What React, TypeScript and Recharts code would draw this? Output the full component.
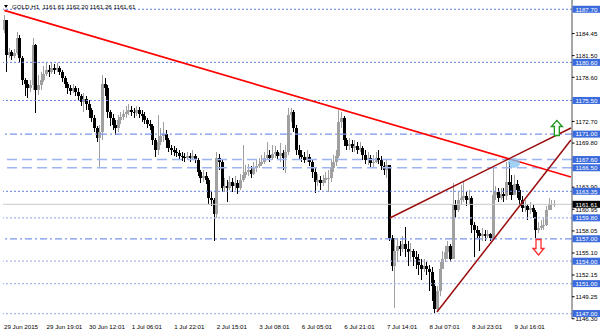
import React from 'react';
import { ComposedChart, Bar, XAxis, YAxis, ReferenceLine, ReferenceDot } from 'recharts';

// ---------- data (GOLD, H1) ----------
const firstOpen = 1184.89;

const closes = [
  1186.23, 1181.54, 1181.94, 1181.41, 1181.81, 1183.82, 1181.14, 1178.19, 1177.66, 1177.12,
  1177.52, 1182.88, 1176.86, 1177.52, 1178.19, 1179.00, 1179.53, 1179.27, 1179.80, 1179.53,
  1179.80, 1179.27, 1178.46, 1177.66, 1177.12, 1176.72, 1177.12, 1176.59, 1176.05, 1175.25,
  1175.65, 1174.98, 1174.18, 1173.11, 1171.77, 1170.43, 1171.23, 1177.66, 1177.12, 1173.91,
  1173.11, 1172.17, 1171.77, 1172.84, 1173.24, 1173.64, 1173.91, 1174.18, 1173.91, 1173.78,
  1174.18, 1173.64, 1173.37, 1172.84, 1172.30, 1172.04, 1170.16, 1168.82, 1169.89, 1170.70,
  1170.96, 1170.16, 1169.09, 1168.82, 1168.55, 1168.42, 1168.02, 1167.88, 1167.75, 1168.02,
  1167.75, 1168.02, 1167.48, 1165.88, 1165.07, 1165.34, 1164.81, 1162.40, 1162.13, 1160.25,
  1167.75, 1167.22, 1163.73, 1164.00, 1163.73, 1164.54, 1164.00, 1164.40, 1163.73, 1164.81,
  1165.47, 1165.88, 1166.14, 1165.61, 1166.41, 1166.68, 1166.95, 1167.22, 1167.75, 1168.15,
  1167.75, 1168.29, 1168.55, 1168.02, 1168.42, 1167.75, 1168.55, 1173.51, 1173.91, 1171.77,
  1168.82, 1168.15, 1167.88, 1167.48, 1167.88, 1167.22, 1165.88, 1164.54, 1164.81, 1164.40,
  1164.81, 1165.07, 1165.07, 1166.41, 1167.22, 1168.02, 1172.57, 1173.11, 1170.16, 1169.36,
  1169.63, 1169.09, 1169.36, 1168.82, 1169.09, 1168.15, 1167.48, 1167.75, 1167.08, 1167.22,
  1167.75, 1167.48, 1166.68, 1166.14, 1166.81, 1157.04, 1153.42, 1155.43, 1156.10, 1155.70,
  1156.24, 1155.70, 1155.17, 1155.43, 1154.63, 1154.36, 1153.56, 1153.02, 1153.42, 1153.02,
  1152.49, 1150.75, 1147.67, 1150.08, 1153.02, 1154.36, 1155.17, 1155.97, 1154.36, 1161.46,
  1160.79, 1162.13, 1162.40, 1162.66, 1162.13, 1162.40, 1158.78, 1158.11, 1157.84, 1157.31,
  1157.58, 1157.31, 1157.58, 1157.17, 1162.80, 1163.20, 1162.40, 1162.93, 1162.66, 1164.54,
  1164.14, 1162.80, 1164.27, 1163.47, 1162.13, 1161.06, 1161.32, 1160.79, 1161.06, 1160.52,
  1158.11, 1158.38, 1158.65, 1158.91, 1160.79, 1161.59, 1161.61, 1161.61,
];

const highs = [
  1186.90, 1185.96, 1182.48, 1182.21, 1182.34, 1184.62, 1184.22, 1181.41, 1178.46, 1178.19,
  1178.19, 1183.82, 1183.01, 1178.86, 1179.27, 1180.07, 1180.47, 1180.20, 1180.60, 1180.34,
  1180.47, 1180.07, 1179.53, 1178.73, 1177.93, 1177.52, 1177.66, 1177.39, 1177.12, 1176.32,
  1176.45, 1176.05, 1175.52, 1174.45, 1173.51, 1172.04, 1172.17, 1178.86, 1178.46, 1177.52,
  1174.18, 1173.64, 1172.84, 1173.51, 1173.91, 1174.18, 1174.71, 1174.98, 1174.71, 1174.45,
  1174.71, 1174.58, 1174.18, 1173.91, 1173.11, 1172.84, 1172.30, 1170.43, 1173.51, 1171.77,
  1172.57, 1171.50, 1170.43, 1169.49, 1169.36, 1169.09, 1168.82, 1168.55, 1168.42, 1168.55,
  1168.42, 1168.82, 1168.29, 1167.75, 1166.14, 1166.14, 1165.88, 1165.07, 1163.20, 1162.40,
  1168.55, 1168.29, 1167.48, 1165.07, 1164.81, 1165.34, 1165.07, 1165.34, 1164.81, 1165.61,
  1169.49, 1166.81, 1166.95, 1166.68, 1167.22, 1167.48, 1167.75, 1168.15, 1168.55, 1169.89,
  1168.82, 1169.49, 1169.36, 1168.82, 1169.76, 1168.82, 1169.49, 1174.45, 1174.45, 1174.18,
  1172.17, 1169.49, 1168.82, 1168.55, 1168.82, 1168.29, 1167.48, 1166.41, 1165.61, 1165.34,
  1165.47, 1165.88, 1166.14, 1167.48, 1168.15, 1168.82, 1174.18, 1173.91, 1173.37, 1170.43,
  1170.43, 1170.16, 1170.16, 1169.89, 1169.89, 1169.36, 1168.82, 1168.55, 1168.15, 1168.15,
  1168.55, 1168.82, 1168.02, 1167.22, 1167.48, 1166.68, 1157.44, 1157.04, 1157.04, 1156.77,
  1157.31, 1158.51, 1156.77, 1156.50, 1155.70, 1155.43, 1154.90, 1154.36, 1154.36, 1153.83,
  1153.56, 1153.29, 1151.42, 1150.75, 1153.83, 1155.43, 1156.10, 1156.77, 1156.24, 1164.40,
  1162.13, 1163.20, 1164.14, 1164.54, 1163.20, 1163.47, 1162.66, 1159.18, 1158.65, 1158.11,
  1158.38, 1158.11, 1158.11, 1157.84, 1166.41, 1164.00, 1163.73, 1163.73, 1163.73, 1167.22,
  1167.22, 1165.47, 1165.47, 1164.81, 1164.00, 1162.66, 1162.13, 1161.59, 1161.86, 1161.46,
  1160.79, 1159.18, 1159.45, 1159.72, 1161.32, 1162.40, 1162.13, 1162.20,
];

const lows = [
  1184.49, 1179.27, 1181.14, 1180.87, 1181.14, 1181.54, 1180.60, 1177.52, 1176.05, 1175.78,
  1176.59, 1176.86, 1173.78, 1176.19, 1176.86, 1177.93, 1178.73, 1178.60, 1179.00, 1179.00,
  1179.27, 1178.86, 1177.93, 1177.12, 1176.32, 1176.19, 1176.45, 1176.05, 1175.52, 1174.71,
  1173.91, 1174.18, 1173.11, 1172.57, 1171.23, 1169.89, 1166.41, 1170.16, 1176.05, 1173.11,
  1172.04, 1171.50, 1170.83, 1171.23, 1172.30, 1172.84, 1173.11, 1173.51, 1173.37, 1173.11,
  1173.37, 1173.11, 1172.57, 1172.30, 1171.77, 1171.50, 1169.49, 1167.88, 1168.15, 1169.49,
  1169.89, 1169.09, 1168.55, 1168.15, 1168.02, 1167.88, 1167.48, 1167.35, 1167.22, 1167.48,
  1167.22, 1167.48, 1167.08, 1165.34, 1164.40, 1164.54, 1164.27, 1161.59, 1161.32, 1156.77,
  1159.72, 1166.14, 1163.20, 1163.20, 1161.86, 1163.47, 1163.20, 1163.47, 1162.93, 1163.47,
  1164.54, 1165.07, 1165.34, 1165.07, 1165.47, 1165.88, 1166.41, 1166.68, 1166.95, 1167.48,
  1167.22, 1167.48, 1167.75, 1167.48, 1167.22, 1166.14, 1165.74, 1168.15, 1172.57, 1171.23,
  1168.15, 1167.48, 1167.22, 1167.08, 1167.22, 1166.68, 1165.07, 1163.06, 1164.00, 1163.47,
  1164.00, 1164.40, 1163.20, 1164.54, 1165.88, 1166.68, 1167.75, 1171.77, 1169.36, 1168.82,
  1168.82, 1168.55, 1168.55, 1168.29, 1168.55, 1167.48, 1166.95, 1166.81, 1166.41, 1166.41,
  1167.08, 1166.95, 1166.14, 1165.47, 1165.07, 1156.77, 1152.75, 1147.80, 1153.83, 1154.76,
  1155.17, 1154.63, 1153.42, 1153.83, 1153.42, 1153.02, 1152.09, 1151.42, 1152.49, 1152.22,
  1150.08, 1148.74, 1147.13, 1147.40, 1149.41, 1153.42, 1153.83, 1154.36, 1153.83, 1154.36,
  1159.72, 1160.52, 1161.46, 1161.86, 1161.32, 1161.59, 1157.84, 1154.50, 1157.04, 1155.43,
  1156.77, 1156.77, 1157.04, 1156.77, 1157.04, 1162.13, 1161.86, 1162.13, 1161.86, 1162.13,
  1162.80, 1162.13, 1163.47, 1162.40, 1161.46, 1160.52, 1160.52, 1159.45, 1160.25, 1159.72,
  1157.04, 1157.84, 1158.11, 1158.11, 1158.65, 1160.79, 1160.79, 1161.26,
];

const labelBars = [0, 16, 32, 48, 64, 80, 96, 112, 128, 144, 160, 176, 192];
const timeLabels = [
  '29 Jun 2015', '29 Jun 19:01', '30 Jun 12:01', '1 Jul 06:01', '1 Jul 22:01', '2 Jul 15:01',
  '3 Jul 08:01', '6 Jul 05:01', '6 Jul 21:01', '7 Jul 14:01', '8 Jul 07:01', '8 Jul 23:01', '9 Jul 16:01',
];

const priceTicks = [1146.30, 1149.25, 1152.15, 1155.10, 1158.05, 1160.95, 1163.90, 1169.80, 1172.70, 1178.60, 1181.50, 1184.45];
const dottedLevels = [1187.70, 1180.60, 1175.50, 1163.35];
const faintLevels = [1159.80, 1154.00, 1151.00, 1147.00];
const dashLevels = [1167.60, 1166.50];
const dashDotLevels = [1171.00, 1157.00];
const lastPrice = 1161.61;
const titleText = 'GOLD,H1  1161.61 1162.20 1161.26 1161.61';

const resistanceLine = [{ bar: 0, price: 1187.55 }, { bar: 213.1, price: 1165.26 }];
const wedgeTop = [{ bar: 145.0, price: 1159.78 }, { bar: 213.1, price: 1171.82 }];
const wedgeBottom = [{ bar: 162.7, price: 1147.2 }, { bar: 213.1, price: 1170.21 }];
const upArrow = { bar: 207.8, price: 1171.82 };
const downArrow = { bar: 200.9, price: 1155.9 };
const touchMark = { bar: 191.7, price: 1167.13 };

const priceDomain: [number, number] = [1146.27, 1188.94];
const barDomain: [number, number] = [-0.5, 213.5];

// ---------- build ----------
const data = closes.map((c, i) => {
  const o = i === 0 ? firstOpen : closes[i - 1];
  return { bar: i, o, c, h: Math.max(highs[i], o, c), l: Math.min(lows[i], o, c) };
});

const FONT = '"Liberation Sans", Arial, sans-serif';
const PLOT_RIGHT = 572;
const PLOT_BOTTOM = 319;
const TAG_BLUE = '#3b6bdc';
const allLevels = [...dottedLevels, ...faintLevels, ...dashLevels, ...dashDotLevels];
const yTicks = [...priceTicks, ...allLevels, lastPrice];
const xTickValues = labelBars.map((b) => b - 0.5);

const Candle = (props: any) => {
  const { x, y, width, height, payload } = props;
  if (!payload || x == null || y == null) return null;
  const top = Math.min(y, y + height);
  const span = Math.abs(height);
  const range = payload.h - payload.l;
  const k = range > 0 ? span / range : 0;
  const bodyTop = top + (payload.h - Math.max(payload.o, payload.c)) * k;
  const bodyBot = top + (payload.h - Math.min(payload.o, payload.c)) * k;
  const up = payload.c >= payload.o;
  const color = up ? '#a0a0a0' : '#000000';
  const cx = x + width / 2;
  const ix = Math.round(cx - 0.5);
  return (
    <g shapeRendering="crispEdges">
      <rect x={ix} y={top} width={1} height={Math.max(span, 1)} fill={color} />
      <rect x={ix - 1} y={bodyTop} width={3} height={Math.max(bodyBot - bodyTop, 1)} fill={color} />
    </g>
  );
};

const YTick = (props: any) => {
  const { y, payload } = props;
  const v = payload.value as number;
  const isLast = v === lastPrice;
  const isTag = isLast || allLevels.indexOf(v) >= 0;
  if (isTag) {
    return (
      <g>
        <rect x={PLOT_RIGHT + 0.5} y={y - 3.5} width={27.5} height={7} fill={isLast ? '#000' : TAG_BLUE} />
        <text x={PLOT_RIGHT + 3.5} y={y + 2.3} fill="#fff" fontSize={6.2} fontFamily={FONT}>{v.toFixed(2)}</text>
      </g>
    );
  }
  return (
    <g>
      <line x1={PLOT_RIGHT} x2={PLOT_RIGHT + 2.5} y1={y} y2={y} stroke="#000" strokeWidth={1} />
      <text x={PLOT_RIGHT + 3.5} y={y + 2.3} fill="#000" fontSize={6.2} fontFamily={FONT}>{v.toFixed(2)}</text>
    </g>
  );
};

const XTick = (props: any) => {
  const { x, payload } = props;
  const idx = xTickValues.indexOf(payload.value);
  if (idx < 0) return null;
  return (
    <text x={x + 1} y={PLOT_BOTTOM + 10} fill="#000" fontSize={6.2} fontFamily={FONT}>{timeLabels[idx]}</text>
  );
};

const UpArrow = (p: any) => {
  const { cx, cy } = p;
  const d = `M${cx},${cy - 7.5} L${cx + 5.5},${cy - 1.5} L${cx + 2.5},${cy - 1.5} L${cx + 2.5},${cy + 7.5} L${cx - 2.5},${cy + 7.5} L${cx - 2.5},${cy - 1.5} L${cx - 5.5},${cy - 1.5} Z`;
  return <path d={d} fill="#fff" stroke="#1f9a1f" strokeWidth={1.3} />;
};

const DownArrow = (p: any) => {
  const { cx, cy } = p;
  const d = `M${cx},${cy + 8} L${cx + 5.5},${cy + 1.5} L${cx + 2.5},${cy + 1.5} L${cx + 2.5},${cy - 7.5} L${cx - 2.5},${cy - 7.5} L${cx - 2.5},${cy + 1.5} L${cx - 5.5},${cy + 1.5} Z`;
  return <path d={d} fill="#fff" stroke="#ff2a2a" strokeWidth={1.3} />;
};

const TouchMark = (p: any) => <ellipse cx={p.cx} cy={p.cy} rx={6} ry={5} fill="#7fc3f0" fillOpacity={0.75} />;

export default function App() {
  return (
    <div style={{ position: 'absolute', left: 0, top: 0, width: 600, height: 333, background: '#fff' }}>
      <ComposedChart width={600} height={333} data={data} margin={{ top: 0, right: 0, bottom: 0, left: 3 }}>
        <XAxis xAxisId="cat" dataKey="bar" type="category" hide padding={{ left: 0, right: 16 }} />
        <XAxis
          xAxisId="num"
          dataKey="bar"
          type="number"
          domain={barDomain}
          allowDataOverflow
          ticks={xTickValues}
          interval={0}
          height={14}
          tickSize={3}
          tickMargin={0}
          axisLine={{ stroke: '#505050' }}
          tickLine={{ stroke: '#000' }}
          tick={<XTick />}
        />
        <YAxis yAxisId="left" orientation="left" width={0} domain={priceDomain} allowDataOverflow tick={false} tickLine={false} axisLine={{ stroke: '#505050' }} />
        <YAxis
          yAxisId="p"
          orientation="right"
          width={28}
          domain={priceDomain}
          allowDataOverflow
          ticks={yTicks}
          interval={0}
          tickLine={false}
          axisLine={{ stroke: '#505050' }}
          tick={<YTick />}
        />

        <ReferenceLine xAxisId="num" yAxisId="p" y={lastPrice} stroke="#c8c8c8" strokeWidth={1} />
        {dottedLevels.map((v) => (
          <ReferenceLine key={'d' + v} xAxisId="num" yAxisId="p" y={v} stroke="#5d7fe6" strokeDasharray="2 2" strokeWidth={1} />
        ))}
        {faintLevels.map((v) => (
          <ReferenceLine key={'f' + v} xAxisId="num" yAxisId="p" y={v} stroke="#a9b5ef" strokeDasharray="2 2" strokeWidth={1.2} />
        ))}
        {dashLevels.map((v) => (
          <ReferenceLine key={'l' + v} xAxisId="num" yAxisId="p" y={v} stroke="#9fb5f2" strokeDasharray="10 5" strokeWidth={1.6} />
        ))}
        {dashDotLevels.map((v) => (
          <ReferenceLine key={'dd' + v} xAxisId="num" yAxisId="p" y={v} stroke="#7894ea" strokeDasharray="7 3 2 3" strokeWidth={1.2} />
        ))}

        <Bar xAxisId="cat" yAxisId="p" dataKey={(d: any) => [d.l, d.h]} barSize={2} shape={Candle} isAnimationActive={false} />

        <ReferenceDot xAxisId="num" yAxisId="p" x={touchMark.bar} y={touchMark.price} shape={TouchMark} ifOverflow="visible" />
        <ReferenceLine
          xAxisId="num"
          yAxisId="p"
          segment={[{ x: resistanceLine[0].bar, y: resistanceLine[0].price }, { x: resistanceLine[1].bar, y: resistanceLine[1].price }]}
          stroke="#ff0000"
          strokeWidth={1.6}
          ifOverflow="visible"
        />
        <ReferenceLine
          xAxisId="num"
          yAxisId="p"
          segment={[{ x: wedgeTop[0].bar, y: wedgeTop[0].price }, { x: wedgeTop[1].bar, y: wedgeTop[1].price }]}
          stroke="#9a0c0c"
          strokeWidth={1.5}
          ifOverflow="visible"
        />
        <ReferenceLine
          xAxisId="num"
          yAxisId="p"
          segment={[{ x: wedgeBottom[0].bar, y: wedgeBottom[0].price }, { x: wedgeBottom[1].bar, y: wedgeBottom[1].price }]}
          stroke="#9a0c0c"
          strokeWidth={1.5}
          ifOverflow="visible"
        />
        <ReferenceDot xAxisId="num" yAxisId="p" x={upArrow.bar} y={upArrow.price} shape={UpArrow} ifOverflow="visible" />
        <ReferenceDot xAxisId="num" yAxisId="p" x={downArrow.bar} y={downArrow.price} shape={DownArrow} ifOverflow="visible" />
      </ComposedChart>
      <div
        style={{
          position: 'absolute',
          left: 4,
          top: 5,
          width: 0,
          height: 0,
          borderLeft: '2px solid transparent',
          borderRight: '2px solid transparent',
          borderTop: '3px solid #000',
        }}
      />
      <div
        style={{
          position: 'absolute',
          left: 12,
          top: 3,
          fontSize: 6.2,
          lineHeight: '7px',
          fontFamily: FONT,
          color: '#000',
          whiteSpace: 'pre',
        }}
      >
        {titleText}
      </div>
    </div>
  );
}
